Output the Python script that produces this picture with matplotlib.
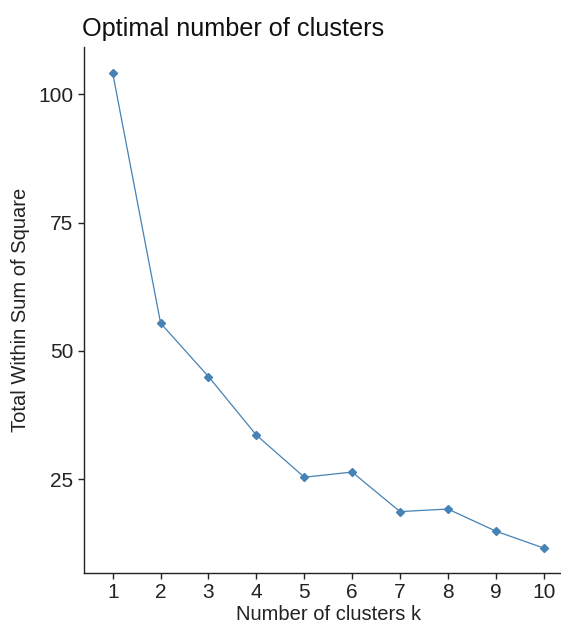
import matplotlib
matplotlib.use("Agg")
import matplotlib.pyplot as plt

k_values = [1, 2, 3, 4, 5, 6, 7, 8, 9, 10]
wss = [104.1, 55.4, 45.0, 33.6, 25.4, 26.4, 18.7, 19.2, 14.9, 11.6]
y_ticks = [25, 50, 75, 100]

plt.rcParams['font.family'] = ['Liberation Sans', 'DejaVu Sans']

fig = plt.figure(figsize=(5.61, 6.28), dpi=100)
W, H = 561, 628
left, right, top, bottom = 84.0, 572.4, 47.0, 572.7
ax = fig.add_axes([left / W, 1 - bottom / H, (right - left) / W, (bottom - top) / H])

ax.plot(k_values, wss, color='#4682B4', linewidth=0.9, marker='D', markersize=4.5,
        markerfacecolor='#4682B4', markeredgecolor='#4682B4')

ax.set_xlim(0.4, 10.6)
ax.set_ylim(6.8, 109.2)
ax.set_xticks(k_values)
ax.set_yticks(y_ticks)
ax.spines['top'].set_visible(False)
ax.spines['right'].set_visible(False)
for s in ['left', 'bottom']:
    ax.spines[s].set_linewidth(1.0)
    ax.spines[s].set_color('#222222')
ax.tick_params(axis='both', length=4.5, width=1.0, colors='#222222', labelsize=15,
               labelcolor='#222222', pad=3)

ax.set_xlabel('Number of clusters k', fontsize=14.5, color='#222222', labelpad=2)
ax.set_ylabel('Total Within Sum of Square', fontsize=14.5, color='#222222', labelpad=6)
fig.text(82 / W, 1 - 29 / H, 'Optimal number of clusters', fontsize=18.2,
         color='#111111', ha='left', va='center')

fig.savefig('out.png', dpi=100)
